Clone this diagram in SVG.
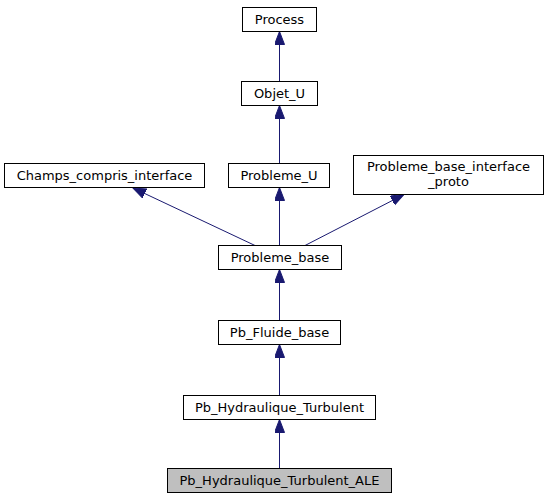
<svg xmlns="http://www.w3.org/2000/svg" width="546" height="500" viewBox="0 0 546 500">
<defs>
<style>
.n rect{fill:#ffffff;stroke:#000000;stroke-width:1}
.n text{font-family:"DejaVu Sans","Liberation Sans",sans-serif;font-size:13px;fill:#000000;text-anchor:middle}
#ALE rect{fill:#bfbfbf}
.e line{stroke:#191970;stroke-width:1;marker-end:url(#ah)}
</style>
<marker id="ah" markerUnits="userSpaceOnUse" markerWidth="14" markerHeight="11" refX="13" refY="5" orient="auto">
<path d="M0,0 L13,5 L0,10 Z" fill="#191970" stroke="#191970" stroke-width="1"/>
</marker>
</defs>
<rect width="546" height="500" fill="#ffffff"/>
<g id="edges" class="e">
<line x1="279.5" y1="81.5" x2="279.5" y2="31.5"/>
<line x1="279.5" y1="163.5" x2="279.5" y2="105.5"/>
<line x1="279.5" y1="245.5" x2="279.5" y2="187.5"/>
<line x1="255" y1="245.5" x2="133" y2="188"/>
<line x1="305" y1="245.5" x2="404" y2="194.5"/>
<line x1="279.5" y1="320.5" x2="279.5" y2="269.5"/>
<line x1="279.5" y1="395.5" x2="279.5" y2="344.5"/>
<line x1="279.5" y1="468.5" x2="279.5" y2="419.5"/>
</g>
<g id="Process" class="n"><rect x="242.5" y="7.5" width="74" height="24"/><text x="279.5" y="24">Process</text></g>
<g id="Objet_U" class="n"><rect x="241.5" y="81.5" width="76" height="24"/><text x="279.5" y="98">Objet_U</text></g>
<g id="Champs_compris_interface" class="n"><rect x="4.5" y="163.5" width="200" height="24"/><text x="104.5" y="180">Champs_compris_interface</text></g>
<g id="Probleme_U" class="n"><rect x="228.5" y="163.5" width="101" height="24"/><text x="279" y="180">Probleme_U</text></g>
<g id="Probleme_base_interface_proto" class="n"><rect x="353.5" y="155.5" width="190" height="39"/><text x="448.5" y="171">Probleme_base_interface</text><text x="448.5" y="185.5">_proto</text></g>
<g id="Probleme_base" class="n"><rect x="218.5" y="245.5" width="123" height="24"/><text x="280" y="262">Probleme_base</text></g>
<g id="Pb_Fluide_base" class="n"><rect x="218.5" y="320.5" width="122" height="24"/><text x="279.5" y="337">Pb_Fluide_base</text></g>
<g id="Pb_Hydraulique_Turbulent" class="n"><rect x="183.5" y="395.5" width="192" height="24"/><text x="279.5" y="412">Pb_Hydraulique_Turbulent</text></g>
<g id="ALE" class="n"><rect x="167.5" y="468.5" width="224" height="24"/><text x="279.5" y="485">Pb_Hydraulique_Turbulent_ALE</text></g>
</svg>
